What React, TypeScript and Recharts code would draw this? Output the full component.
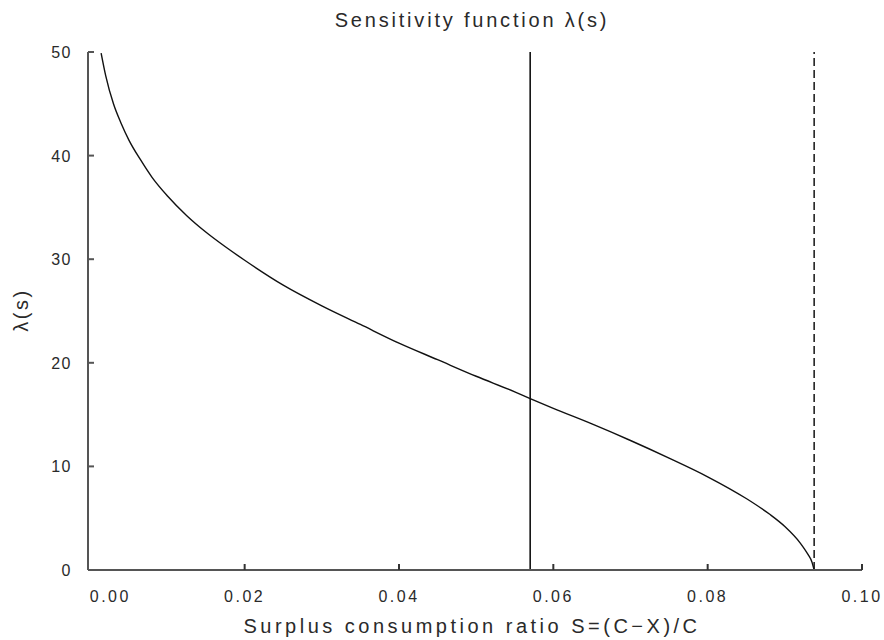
import { LineChart, Line, XAxis, YAxis, ReferenceLine } from "recharts";

// surplus consumption ratio S and sensitivity lambda(s)
const surplus = [
  0.0014, 0.002, 0.003, 0.004, 0.005, 0.0065, 0.008, 0.01, 0.0125, 0.015, 0.0175, 0.02,
  0.025, 0.03, 0.035, 0.04, 0.045, 0.05, 0.055, 0.057, 0.06, 0.065, 0.07, 0.075, 0.08,
  0.085, 0.088, 0.09, 0.092, 0.093, 0.0935, 0.0938,
];
const lambda = [
  49.9, 47.7, 45.0, 43.1, 41.5, 39.6, 37.9, 36.1, 34.2, 32.6, 31.2, 29.9,
  27.5, 25.5, 23.7, 21.9, 20.3, 18.7, 17.2, 16.55, 15.6, 14.1, 12.5, 10.8, 9.0,
  6.9, 5.4, 4.2, 2.6, 1.5, 0.8, 0,
];
const steadyState = 0.057;
const maxSurplus = 0.0938;
const xTicks = [0, 0.02, 0.04, 0.06, 0.08, 0.1];
const yTicks = [0, 10, 20, 30, 40, 50];

const data = surplus.map((s, i) => ({ s, lam: lambda[i] }));

const FONT = "'Liberation Sans', Arial, sans-serif";
const INK = "#2a2a2a";
const AXIS = "#555";

// axes are mirrored with zero tick size, so x/y here sit on the axis line;
// each tick draws its own inward stub plus a label outside the plot
function XTick(props: any) {
  const { x, y, payload, index } = props;
  return (
    <g>
      {index > 0 && <line x1={x} y1={y} x2={x} y2={y - 6} stroke="#333" strokeWidth={2} />}
      <text
        x={x + (index === 0 ? 20 : 0)}
        y={y + 32}
        textAnchor="middle"
        fontFamily={FONT}
        fontSize={16}
        letterSpacing={2.5}
        fill={INK}
      >
        {Number(payload.value).toFixed(2)}
      </text>
    </g>
  );
}

function YTick(props: any) {
  const { x, y, payload, index } = props;
  return (
    <g>
      {index > 0 && <line x1={x} y1={y} x2={x + 6} y2={y} stroke="#555" strokeWidth={2} />}
      <text
        x={x - 16}
        y={y + 6}
        textAnchor="end"
        fontFamily={FONT}
        fontSize={16}
        letterSpacing={1.5}
        fill={INK}
      >
        {payload.value}
      </text>
    </g>
  );
}

export default function App() {
  return (
    <div
      style={{
        position: "absolute",
        left: 0,
        top: 0,
        width: 884,
        height: 640,
        background: "#fff",
        fontFamily: FONT,
      }}
    >
      <div
        style={{
          position: "absolute",
          left: 0,
          width: 944,
          top: 9,
          textAlign: "center",
          fontSize: 20,
          letterSpacing: 2.8,
          color: INK,
        }}
      >
        Sensitivity function λ(s)
      </div>
      <div
        style={{
          position: "absolute",
          left: 21,
          top: 310,
          transform: "translate(-50%, -50%) rotate(-90deg)",
          fontSize: 20,
          letterSpacing: 2.5,
          color: INK,
          whiteSpace: "nowrap",
        }}
      >
        λ(s)
      </div>
      <div
        style={{
          position: "absolute",
          left: 0,
          width: 944,
          top: 615,
          textAlign: "center",
          fontSize: 20,
          letterSpacing: 3.5,
          color: INK,
          whiteSpace: "nowrap",
        }}
      >
        Surplus consumption ratio S=(C−X)/C
      </div>
      <LineChart
        width={884}
        height={640}
        data={data}
        margin={{ top: 52, right: 22, bottom: 70, left: 88 }}
        style={{ position: "absolute", left: 0, top: 0 }}
      >
        <XAxis
          dataKey="s"
          type="number"
          domain={[-0.0003, 0.1]}
          ticks={xTicks}
          allowDataOverflow
          height={1}
          mirror
          tickSize={0}
          tickMargin={0}
          tick={<XTick />}
          tickLine={false}
          axisLine={{ stroke: AXIS, strokeWidth: 2 }}
        />
        <YAxis
          type="number"
          domain={[0, 50]}
          ticks={yTicks}
          width={1}
          mirror
          tickSize={0}
          tickMargin={0}
          tick={<YTick />}
          tickLine={false}
          axisLine={{ stroke: AXIS, strokeWidth: 2 }}
        />
        <ReferenceLine x={steadyState} stroke="#111" strokeWidth={1.6} />
        <ReferenceLine x={maxSurplus} stroke="#222" strokeWidth={1.6} strokeDasharray="8 4" />
        <Line
          type="monotone"
          dataKey="lam"
          stroke="#111"
          strokeWidth={1.4}
          dot={false}
          isAnimationActive={false}
        />
      </LineChart>
    </div>
  );
}
